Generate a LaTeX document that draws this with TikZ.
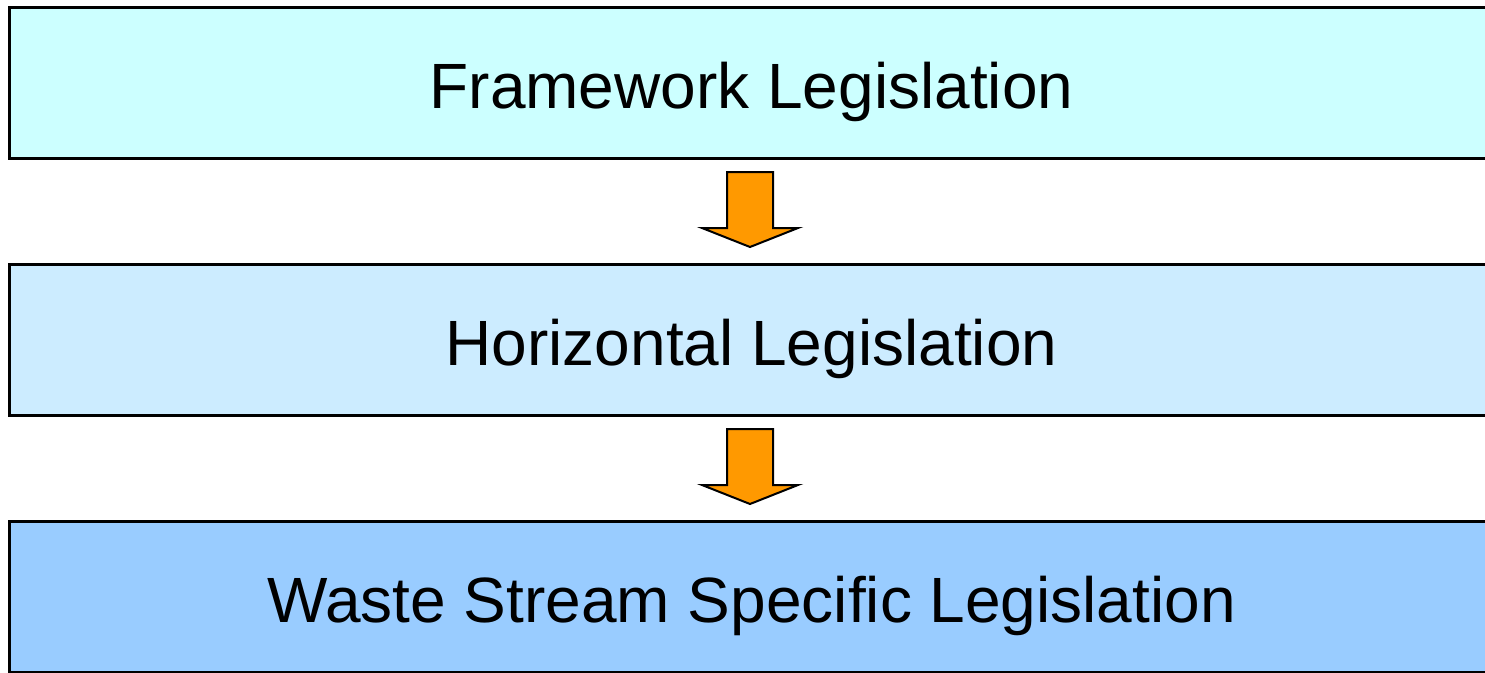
\documentclass[tikz,border=0pt]{standalone}
\usepackage{fontspec}
\setmainfont{Liberation Sans}
\definecolor{boxA}{HTML}{CCFFFF}
\definecolor{boxB}{HTML}{CCECFF}
\definecolor{boxC}{HTML}{99CCFF}
\definecolor{arrowfill}{HTML}{FF9900}
\begin{document}
\begin{tikzpicture}[x=1pt,y=-1pt,
  level/.style={draw=black,line width=3pt,rectangle,minimum width=1484pt,minimum height=151pt,inner sep=0pt,
    text height=51pt,text depth=0pt,
    font=\fontsize{64pt}{70pt}\selectfont,anchor=north west},
  blockarrow/.style={draw=black,line width=2pt,fill=arrowfill,line join=miter}]
\useasboundingbox (0,0) rectangle (1485,672);
\node[level,fill=boxA] (fw) at (8,6) {Framework Legislation};
\node[level,fill=boxB] (hz) at (8,263) {Horizontal Legislation};
\node[level,fill=boxC] (ws) at (8,520) {Waste Stream Specific Legislation};
\coordinate (a1) at (750,172);
\coordinate (a2) at (750,429);
\foreach \c in {a1,a2}{
  \draw[blockarrow] ([xshift=-23pt]\c) -- ([xshift=23pt]\c) -- ([xshift=23pt,yshift=-56pt]\c)
    -- ([xshift=48pt,yshift=-56pt]\c) -- ([yshift=-75pt]\c) -- ([xshift=-48pt,yshift=-56pt]\c)
    -- ([xshift=-23pt,yshift=-56pt]\c) -- cycle;
}
\end{tikzpicture}
\end{document}
